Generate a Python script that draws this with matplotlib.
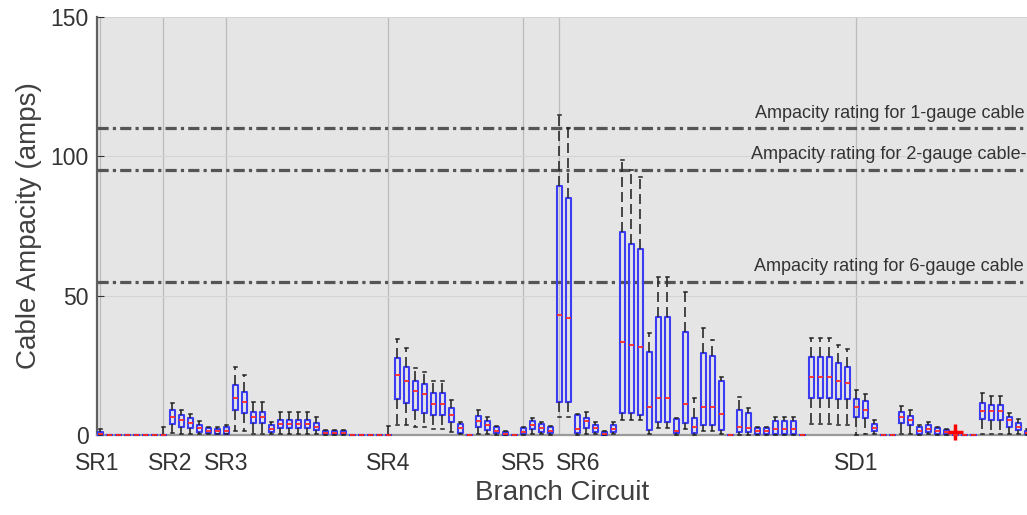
import matplotlib.pyplot as plt
from matplotlib.transforms import blended_transform_factory

# one entry per branch circuit box (positions 1..104)
q1 = [0, 0, 0, 0, 0, 0, 0, 0, 3.8, 3.0,
      2.4, 1.2, 0.6, 0.5, 0.5, 9.0, 7.8, 4.2, 4.2, 1.2,
      2.4, 2.4, 2.4, 2.4, 1.8, 0.3, 0.3, 0.3, 0, 0,
      0, 0, 0, 12.8, 11.6, 9.0, 8.0, 7.2, 7.2, 4.8,
      0.8, 0, 3.0, 1.8, 0.6, 0, 0, 0.3, 2.0, 1.2,
      0.6, 12.0, 12.0, 0.6, 2.4, 1.2, 0, 1.0, 7.8, 7.8,
      7.2, 1.8, 4.8, 4.8, 0.6, 4.2, 0.6, 3.6, 3.6, 1.8,
      0, 1.2, 1.0, 0.5, 0.5, 0.4, 0.4, 0.4, 0, 13.4,
      13.4, 13.4, 12.8, 12.8, 6.6, 6.0, 1.4, 0, 0, 4.2,
      3.6, 0.5, 1.0, 0.5, 0.3, 0, 0, 0, 5.6, 5.4,
      5.4, 3.0, 1.8, 0.3]
med = [0.3, 0, 0, 0, 0, 0, 0, 0, 6.3, 5.4,
       4.2, 2.4, 1.5, 1.3, 1.5, 13.2, 12.0, 6.3, 6.3, 2.2,
       3.9, 3.9, 3.9, 3.9, 3.0, 0.8, 0.8, 0.8, 0, 0,
       0, 0, 0, 21.5, 19.5, 15.8, 14.7, 11.3, 11.3, 7.2,
       2.4, 0, 5.1, 3.6, 1.5, 0.4, 0, 1.2, 3.6, 2.5,
       1.5, 43.0, 42.0, 2.2, 5.1, 2.4, 0.5, 2.2, 33.5, 32.3,
       31.7, 10.2, 13.2, 13.2, 1.5, 11.3, 3.0, 10.2, 10.2, 7.4,
       0, 3.0, 2.4, 1.5, 1.5, 2.0, 2.0, 2.0, 0, 20.7,
       20.7, 20.7, 19.5, 18.5, 9.9, 9.0, 2.6, 0, 0, 6.3,
       5.4, 1.5, 2.2, 1.5, 1.0, 0, 0, 0, 8.7, 8.7,
       8.7, 5.4, 3.0, 0.8]
q3 = [1.0, 0, 0, 0, 0, 0, 0, 0, 9.0, 7.2,
      6.0, 3.6, 2.4, 2.2, 2.7, 17.9, 15.5, 8.4, 8.4, 3.6,
      5.4, 5.4, 5.4, 5.4, 4.2, 1.5, 1.5, 1.5, 0, 0,
      0, 0, 0, 27.5, 24.5, 19.4, 18.3, 15.2, 15.2, 9.6,
      3.9, 0, 6.8, 5.1, 2.7, 1.2, 0, 2.4, 5.1, 3.8,
      2.7, 89.2, 85.0, 7.0, 6.0, 3.6, 1.2, 3.6, 72.9, 68.5,
      66.6, 29.9, 42.4, 42.4, 5.6, 37.1, 6.0, 29.3, 28.3, 19.4,
      0, 9.0, 7.8, 2.6, 2.6, 5.1, 5.1, 5.1, 0, 27.9,
      27.9, 27.9, 25.7, 24.5, 12.8, 12.3, 3.9, 0, 0, 8.1,
      6.8, 2.7, 3.6, 2.5, 1.8, 0, 0, 0, 11.6, 10.8,
      10.8, 6.6, 4.4, 1.5]
lo = [0, 0, 0, 0, 0, 0, 0, 0, 0.6, 0.5,
      0.4, 0.3, 0.2, 0.2, 0.2, 1.5, 1.5, 0.5, 0.5, 0.3,
      0.5, 0.5, 0.5, 0.5, 0.4, 0, 0, 0, 0, 0,
      0, 0, 0, 3.6, 3.6, 2.7, 2.7, 2.0, 2.0, 1.0,
      0.2, 0, 0.5, 0.3, 0.1, 0, 0, 0, 0.4, 0.2,
      0.1, 6.5, 6.5, 0, 0.5, 0.2, 0, 0.2, 5.4, 5.4,
      5.4, 0.5, 2.5, 2.5, 0, 2.0, 0, 1.5, 1.5, 0.5,
      0, 0, 0, 0, 0, 0, 0, 0, 0, 3.9,
      3.9, 3.9, 3.6, 3.6, 0, 0.5, 0.3, 0, 0, 0.5,
      0.5, 0.1, 0.2, 0.1, 0, 0, 0, 0, 0.5, 0.5,
      0.5, 0.3, 0.3, 0]
hi = [2.0, 0, 0, 0, 0, 0, 0, 3.0, 11.6, 9.0,
      7.4, 5.1, 2.8, 2.8, 3.5, 24.5, 21.5, 12.0, 12.0, 4.8,
      8.4, 8.4, 8.4, 8.4, 6.6, 1.8, 1.8, 1.8, 0, 0,
      0, 0, 3.2, 34.3, 31.1, 23.9, 22.7, 19.5, 19.5, 12.6,
      4.8, 0, 9.0, 6.3, 3.3, 1.5, 0, 2.7, 6.0, 4.8,
      3.3, 114.8, 110.0, 7.5, 8.4, 4.5, 1.5, 4.5, 98.7, 95.1,
      92.7, 36.5, 56.8, 56.8, 6.0, 51.4, 13.2, 38.5, 34.1, 20.9,
      0, 13.8, 9.6, 3.0, 3.0, 6.6, 6.6, 6.6, 0, 34.7,
      34.7, 34.7, 32.2, 30.7, 16.1, 14.7, 5.4, 0, 0, 10.4,
      9.0, 3.6, 4.8, 3.0, 2.2, 0, 0, 0, 15.0, 14.0,
      14.0, 8.0, 5.6, 2.0]
outliers = {96: [1.0]}

grid_pos = [1, 8, 15, 33, 48, 52, 85]
label_pos = [0.7, 8.8, 15, 33, 48, 54.1, 85]
tick_labels = ["SR1", "SR2", "SR3", "SR4", "SR5", "SR6", "SD1"]

ratings = [110, 95, 55]
rating_labels = ["Ampacity rating for 1-gauge cable",
                 "Ampacity rating for 2-gauge cable-",
                 "Ampacity rating for 6-gauge cable"]
rating_label_x = [0.997, 0.9995, 0.997]

plt.rcParams['font.family'] = ['Liberation Sans', 'DejaVu Sans']

fig = plt.figure(figsize=(10.27, 5.15), dpi=100)
ax = fig.add_axes([97/1027, 80/515, 930/1027, 418/515])
ax.set_facecolor("#e5e5e5")

positions = list(range(1, len(med) + 1))
stats = []
for i, p in enumerate(positions):
    stats.append(dict(med=med[i], q1=q1[i], q3=q3[i], whislo=lo[i], whishi=hi[i],
                      fliers=outliers.get(p, [])))

arts = ax.bxp(stats, positions=positions, widths=0.55, capwidths=0.35,
              boxprops=dict(color="#3c3cf5", lw=1.5),
              medianprops=dict(color="#ff2a2a", lw=1.3),
              whiskerprops=dict(color="#2a2a2a", lw=1.2, ls=(0, (6, 3))),
              capprops=dict(color="#222222", lw=1.1),
              flierprops=dict(marker="+", markeredgecolor="red", markersize=12, mew=2.5))
for group in arts.values():
    for a in group:
        a.set_clip_on(False)
        a.set_zorder(3)
for m in arts["medians"]:
    m.set_zorder(4)

for r in ratings:
    ax.axhline(r, color="#555555", lw=2.3, ls=(0, (3.5, 1.3, 1.0, 1.3)), zorder=1)
tr = blended_transform_factory(ax.transAxes, ax.transData)
for r, t, x in zip(ratings, rating_labels, rating_label_x):
    ax.text(x, r + 5.5, t, transform=tr, ha="right", va="center",
            fontsize=13, color="#333333")

# vertical grid at the start of each circuit group
for g in grid_pos:
    ax.axvline(g, color="#bcbcbc", lw=0.9, zorder=0.5)

ax.set_xlim(0.65, 103.98)
ax.set_ylim(0, 150)
ax.set_yticks([0, 50, 100, 150])
ax.set_xticks(label_pos)
ax.set_xticklabels(tick_labels)

ax.grid(axis="y", color="#d4d4d4", lw=0.8)
ax.set_axisbelow(True)

ax.tick_params(axis="x", direction="in", length=0, labelsize=16.5, pad=12, colors="#333333")
ax.tick_params(axis="y", direction="in", length=5, labelsize=16.5, pad=6, colors="#333333")

ax.spines["top"].set_visible(False)
ax.spines["right"].set_visible(False)
ax.spines["left"].set_color("#606060")
ax.spines["left"].set_linewidth(1.6)
ax.spines["bottom"].set_color("#9a9a9a")
ax.spines["bottom"].set_linewidth(1.6)

ax.set_xlabel("Branch Circuit", fontsize=20, color="#404040", labelpad=4)
ax.set_ylabel("Cable Ampacity (amps)", fontsize=20, color="#404040", labelpad=6)

fig.savefig("out.png", dpi=100, facecolor="white")
